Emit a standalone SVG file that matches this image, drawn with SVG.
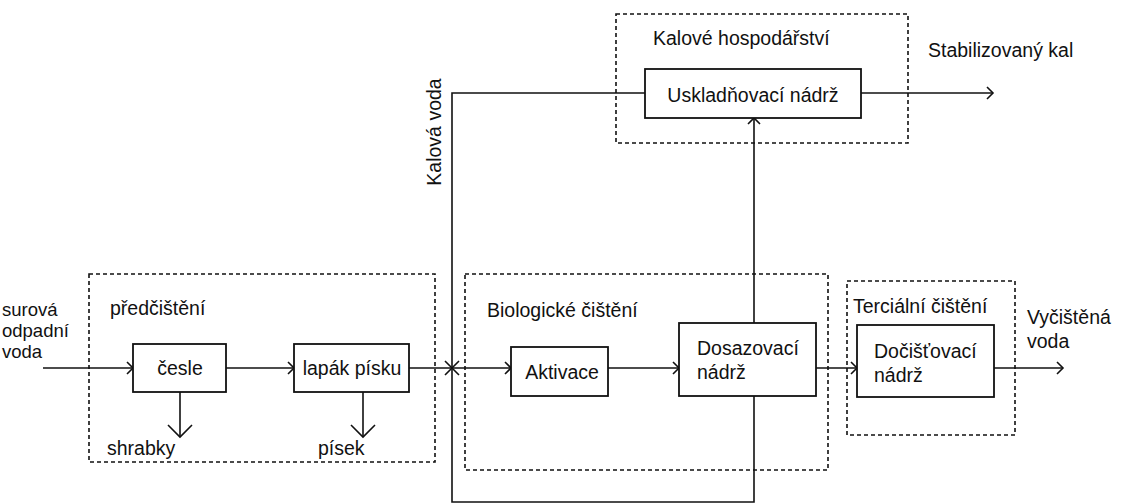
<svg xmlns="http://www.w3.org/2000/svg" width="1123" height="504" viewBox="0 0 1123 504">
<style>
text{font-family:"Liberation Sans",Arial,sans-serif;font-size:19.5px;fill:#111}
.sm{font-size:18.5px}
.box{fill:#fff;stroke:#111;stroke-width:1.8}
.grp{fill:none;stroke:#111;stroke-width:1.6;stroke-dasharray:4 3}
.ln{fill:none;stroke:#111;stroke-width:1.6}
.m{text-anchor:middle}
</style>
<defs>
<marker id="a" markerUnits="userSpaceOnUse" markerWidth="20" markerHeight="20" viewBox="-10 -10 20 20" refX="0" refY="0" orient="auto"><path d="M-6,-6 L0,0 L-6,6" fill="none" stroke="#111" stroke-width="1.6"/></marker>
<marker id="b" markerUnits="userSpaceOnUse" markerWidth="30" markerHeight="30" viewBox="-15 -15 30 30" refX="0" refY="0" orient="auto"><path d="M-12,-12 L0,0 L-12,12" fill="none" stroke="#111" stroke-width="1.6"/></marker>
</defs>
<rect width="1123" height="504" fill="#fff"/>
<g id="groups">
<rect id="g-predcisteni" class="grp" x="89" y="274" width="346" height="188"/>
<rect id="g-bio" class="grp" x="465" y="274" width="363" height="196"/>
<rect id="g-terc" class="grp" x="847" y="281" width="168" height="154"/>
<rect id="g-kal" class="grp" x="616" y="14" width="292" height="129"/>
<text x="110" y="315">předčištění</text>
<text x="487" y="317">Biologické čištění</text>
<text x="853" y="313">Terciální čištění</text>
<text x="653" y="45">Kalové hospodářství</text>
</g>
<g id="connectors">
<line class="ln" x1="43" y1="368" x2="133" y2="368" marker-end="url(#a)"/>
<line class="ln" x1="226" y1="368" x2="294" y2="368" marker-end="url(#a)"/>
<line class="ln" x1="409" y1="368" x2="452" y2="368"/>
<path class="ln" d="M445,361 L459,375 M445,375 L459,361"/>
<line class="ln" x1="452" y1="368" x2="511" y2="368" marker-end="url(#a)"/>
<line class="ln" x1="608" y1="368" x2="679" y2="368" marker-end="url(#a)"/>
<line class="ln" x1="816" y1="368" x2="857" y2="368" marker-end="url(#a)"/>
<line class="ln" x1="994" y1="368" x2="1063" y2="368" marker-end="url(#a)"/>
<line class="ln" x1="180" y1="392" x2="180" y2="437" marker-end="url(#b)"/>
<line class="ln" x1="363" y1="392" x2="363" y2="437" marker-end="url(#b)"/>
<line class="ln" x1="754" y1="323" x2="754" y2="118" marker-end="url(#a)"/>
<path class="ln" d="M754,396 L754,502 L452,502 L452,93 L645,93"/>
<line class="ln" x1="861" y1="93" x2="993" y2="93" marker-end="url(#a)"/>
</g>
<g id="n-cesle"><rect class="box" x="133" y="344" width="93" height="48"/><text class="m" x="180" y="375">česle</text></g>
<g id="n-lapak"><rect class="box" x="294" y="344" width="115" height="48"/><text class="m" x="352" y="375">lapák písku</text></g>
<g id="n-aktivace"><rect class="box" x="511" y="347" width="97" height="49"/><text class="m" x="562" y="379">Aktivace</text></g>
<g id="n-dosazovaci"><rect class="box" x="679" y="323" width="137" height="73"/><text x="697" y="355">Dosazovací</text><text x="697" y="379">nádrž</text></g>
<g id="n-docistovaci"><rect class="box" x="857" y="325" width="137" height="72"/><text x="874" y="358">Dočišťovací</text><text x="874" y="382">nádrž</text></g>
<g id="n-uskladnovaci"><rect class="box" x="645" y="69" width="216" height="49"/><text class="m" x="753" y="102">Uskladňovací nádrž</text></g>
<g id="labels">
<text class="sm" x="2" y="316">surová</text>
<text class="sm" x="2" y="337">odpadní</text>
<text class="sm" x="2" y="358">voda</text>
<text x="107" y="455">shrabky</text>
<text x="318" y="455">písek</text>
<text x="928" y="57">Stabilizovaný kal</text>
<text x="1027" y="324">Vyčištěná</text>
<text x="1027" y="348">voda</text>
<text class="m" transform="translate(441,132) rotate(-90)">Kalová voda</text>
</g>
</svg>
